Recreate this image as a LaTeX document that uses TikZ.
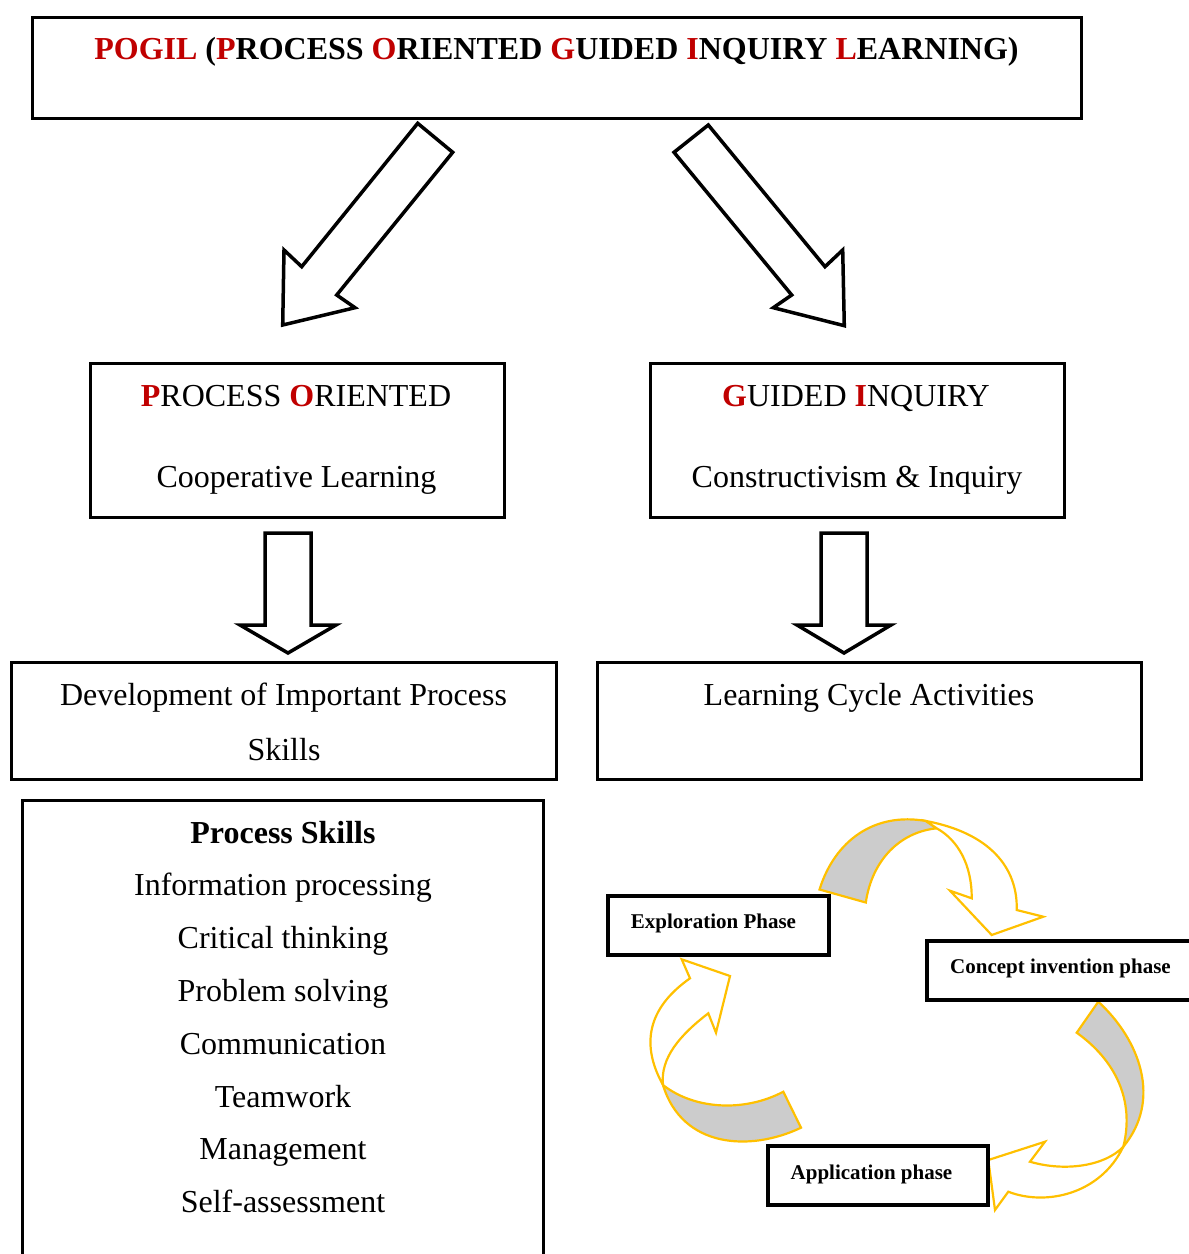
\documentclass[tikz,border=0pt]{standalone}
\usepackage{fontspec}
\setmainfont{Liberation Serif}
\definecolor{pred}{HTML}{C00000}
\definecolor{ribbonline}{HTML}{FFC000}
\definecolor{ribbonback}{HTML}{CCCCCC}

\begin{document}
\begin{tikzpicture}[x=1pt,y=-1pt,
  box/.style={draw, line width=3pt, inner sep=0pt},
  phasebox/.style={draw, line width=4pt, inner sep=0pt, fill=white},
  big/.style={font=\fontsize{32}{38}\selectfont, inner sep=0pt, anchor=base},
  bigb/.style={font=\fontsize{32}{38}\selectfont\bfseries, inner sep=0pt, anchor=base},
  small/.style={font=\fontsize{21}{25}\selectfont\bfseries, inner sep=0pt, anchor=base},
  blockarrow/.style={draw, line width=3.5pt, line join=miter, fill=white},
  ribbon/.style={draw=ribbonline, line width=2.2pt, line join=miter},
]
\useasboundingbox (0,0) rectangle (1189,1254);

% ---------- boxes ----------
\node[box, minimum width=1049, minimum height=101] (title) at (556.5,67.5) {};
\node[box, minimum width=414, minimum height=154] (po) at (297,440.5) {};
\node[box, minimum width=414, minimum height=154] (gi) at (857,440.5) {};
\node[box, minimum width=545, minimum height=117] (dev) at (283.5,720.5) {};
\node[box, minimum width=544, minimum height=117] (lca) at (869,720.5) {};
\node[box, minimum width=521, minimum height=500] (ps) at (282.5,1050) {};

% ---------- texts ----------
\node[bigb] (titletext) at (556.5,59) {\textcolor{pred}{POGIL} (\textcolor{pred}{P}ROCESS \textcolor{pred}{O}RIENTED \textcolor{pred}{G}UIDED \textcolor{pred}{I}NQUIRY \textcolor{pred}{L}EARNING)};

\node[big] (pot) at (296,406) {\textcolor{pred}{\bfseries P}ROCESS \textcolor{pred}{\bfseries O}RIENTED};
\node[big] (poc) at (296.5,487) {Cooperative Learning};
\node[big] (git) at (856,406) {\textcolor{pred}{\bfseries G}UIDED \textcolor{pred}{\bfseries I}NQUIRY};
\node[big] (gic) at (857,487) {Constructivism \& Inquiry};

\node[big] (dev1) at (283.5,705) {Development of Important Process};
\node[big] (dev2) at (284,760) {Skills};
\node[big] (lcat) at (869,705) {Learning Cycle Activities};

\node[bigb] (ps0) at (283,843) {Process Skills};
\node[big] (ps1) at (283,895) {Information processing};
\node[big] (ps2) at (283,948) {Critical thinking};
\node[big] (ps3) at (283,1001) {Problem solving};
\node[big] (ps4) at (283,1054) {Communication};
\node[big] (ps5) at (283,1107) {Teamwork};
\node[big] (ps6) at (283,1159) {Management};
\node[big] (ps7) at (283,1212) {Self-assessment};

% ---------- block arrows ----------
\draw[blockarrow] (417.7,123.3) -- (452.7,152.3) -- (336.7,295) -- (355,307.7)
  -- (282.7,325) -- (284,250) -- (301.7,266.7) -- cycle;
\draw[blockarrow] (708.3,125) -- (674,152.3) -- (791.7,295) -- (773.3,307.7)
  -- (844.3,325.7) -- (842.7,250) -- (825,266.7) -- cycle;
\draw[blockarrow] (265,533) -- (311,533) -- (311,625) -- (336,625) -- (288,653)
  -- (240,625) -- (265,625) -- cycle;
\draw[blockarrow] (821,533) -- (867,533) -- (867,625) -- (891,625) -- (844,653)
  -- (797,625) -- (821,625) -- cycle;

% ---------- learning cycle ribbons ----------
% exploration -> concept invention
\filldraw[ribbon, fill=ribbonback]
  (819.5,889.5) .. controls (835,840) and (875,812) .. (926,821)
  -- (936.7,828.3) .. controls (900,832) and (872,860) .. (865.8,902.5)
  -- cycle;
\filldraw[ribbon, fill=white]
  (926,821) .. controls (990,833) and (1018,868) .. (1016.7,910)
  -- (1043.3,916.7) -- (991.7,935) -- (950,890.7) -- (971.7,898.3)
  .. controls (972,865) and (958,840) .. (936.7,828.3)
  -- cycle;

% concept invention -> application
\filldraw[ribbon, fill=ribbonback]
  (1098.3,1001.7) .. controls (1140,1040) and (1162,1100) .. (1123.3,1146.7)
  .. controls (1135,1100) and (1115,1060) .. (1076.7,1032.7)
  -- cycle;
\filldraw[ribbon, fill=white]
  (1123.3,1146.7) .. controls (1100,1195) and (1045,1206) .. (1008.3,1191.7)
  -- (995,1210) -- (988.3,1160) -- (1045,1141.7) -- (1030,1161.7)
  .. controls (1065,1172) and (1105,1166) .. (1123.3,1146.7)
  -- cycle;

% application -> exploration
\filldraw[ribbon, fill=ribbonback]
  (801,1127.7) .. controls (750,1152) and (682,1148) .. (663,1085)
  .. controls (695,1110) and (745,1112) .. (783.3,1091.7)
  -- cycle;
\filldraw[ribbon, fill=white]
  (663,1085) .. controls (638,1040) and (652,1005) .. (690,978.3)
  -- (681.7,959.3) -- (730,976) -- (716,1032.7) -- (708.3,1013.3)
  .. controls (680,1035) and (660,1058) .. (663,1085)
  -- cycle;

% ---------- phase boxes ----------
\node[phasebox, minimum width=221, minimum height=59] (expl) at (718.5,925.5) {};
\node[phasebox, minimum width=273, minimum height=59] (conc) at (1063.5,970.5) {};
\node[phasebox, minimum width=220, minimum height=59] (appl) at (878,1175.5) {};
\node[small] (explt) at (713.5,928.5) {Exploration Phase};
\node[small] (conct) at (1060.5,973.5) {Concept invention phase};
\node[small] (applt) at (871.5,1179) {Application phase};
\end{tikzpicture}
\end{document}
